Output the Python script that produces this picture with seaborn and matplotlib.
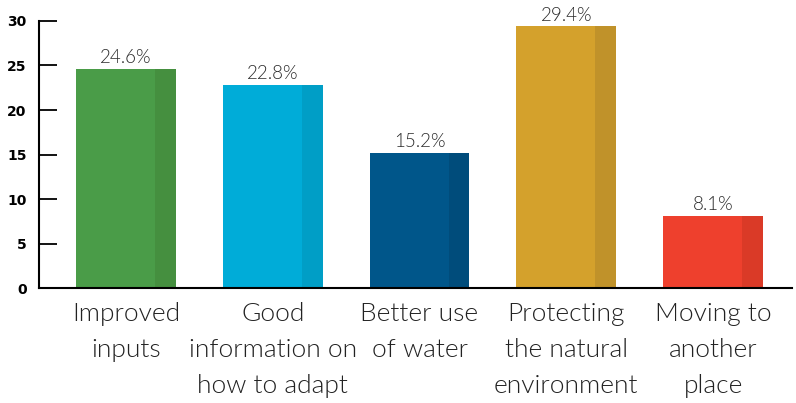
import matplotlib
matplotlib.use("Agg")
import matplotlib.pyplot as plt
from matplotlib.patches import Rectangle
import seaborn as sns
import pandas as pd

categories = [
    "Improved\ninputs",
    "Good\ninformation on\nhow to adapt",
    "Better use\nof water",
    "Protecting\nthe natural\nenvironment",
    "Moving to\nanother\nplace",
]
values = [24.6, 22.8, 15.2, 29.4, 8.1]
face_colors = ["#4a9c48", "#00acd8", "#00568a", "#d4a12c", "#ee402d"]
shade_colors = ["#458f3f", "#009ec6", "#004c7b", "#c0922a", "#da3a27"]
y_ticks = [0, 5, 10, 15, 20, 25, 30]

sns.set_theme(style="white")
plt.rcParams["font.family"] = ["Lato", "DejaVu Sans"]

df = pd.DataFrame({"category": categories, "value": values})

fig = plt.figure(figsize=(7.96, 4.03), dpi=100)
ax = fig.add_axes([0.049, 0.285, 0.946, 0.663])

sns.barplot(data=df, x="category", y="value", hue="category",
            palette=face_colors, width=0.68, legend=False, ax=ax,
            saturation=1, linewidth=0, edgecolor="none")

# darker strip on the right side of every bar
for patch, shade, v in zip(ax.patches, shade_colors, values):
    w = patch.get_width()
    x0 = patch.get_x() + w * 0.79
    ax.add_patch(Rectangle((x0, 0), w * 0.21, v, facecolor=shade,
                           edgecolor="none", linewidth=0,
                           zorder=patch.get_zorder() + 0.1))
    ax.text(patch.get_x() + w / 2, v + 0.3, f"{v}%", ha="center",
            va="bottom", fontsize=13.5, color="#2a2a2a", fontweight=300)

ax.set_xlim(-0.592, 4.537)
ax.set_ylim(0, 30)
ax.set_yticks(y_ticks)
ax.set_yticklabels([str(t) for t in y_ticks], fontsize=10, fontweight="bold",
                   family=["DejaVu Sans"])
ax.set_xlabel("")
ax.set_ylabel("")

ax.tick_params(axis="y", direction="in", length=13, width=1.3, pad=9,
               colors="black", left=True)
ax.tick_params(axis="x", length=0, pad=10)
for lbl in ax.get_xticklabels():
    lbl.set_fontsize(19)
    lbl.set_fontweight(300)
    lbl.set_color("#222222")
    lbl.set_linespacing(1.62)

for side in ["top", "right"]:
    ax.spines[side].set_visible(False)
for side in ["left", "bottom"]:
    ax.spines[side].set_color("black")
    ax.spines[side].set_linewidth(1.5)

fig.savefig("out.png", dpi=100, facecolor="white")
